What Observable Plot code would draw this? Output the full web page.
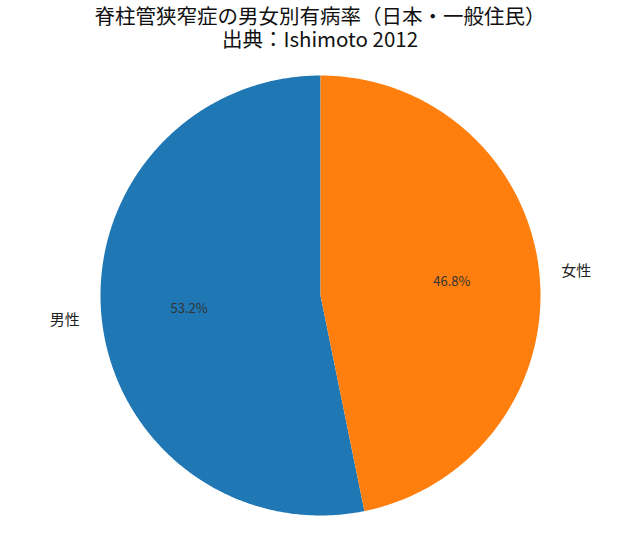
<!DOCTYPE html>
<html><head><meta charset="utf-8">
<script src="https://cdn.jsdelivr.net/npm/d3@7"></script>
<script src="https://cdn.jsdelivr.net/npm/@observablehq/plot@0.6"></script>
<style>
body{margin:0;background:#fff;font-family:"Noto Sans CJK JP","Noto Sans",sans-serif;}
#title{height:56px;text-align:center;color:#111;padding-top:4px;box-sizing:border-box;}
#title div{font-size:20.5px;line-height:23px;height:23px;white-space:nowrap;}
</style></head>
<body>
<div id="title"><div>脊柱管狭窄症の男女別有病率（日本・一般住民）</div><div>出典：Ishimoto 2012</div></div>
<div id="chart"></div>
<script>
const categories = ["男性", "女性"];
const values = [53.2, 46.8];
const colors = ["#1f77b4", "#ff7f0e"];
const startAngle = 90;

const total = d3.sum(values);
let acc = startAngle;
const slices = categories.map((c, i) => {
  const span = values[i] / total * 360;
  const s = {cat: c, value: values[i], color: colors[i], a0: acc, a1: acc + span};
  acc += span;
  s.mid = (s.a0 + s.a1) / 2;
  return s;
});
const rad = d => d * Math.PI / 180;
const poly = [];
for (const s of slices) {
  poly.push({cat: s.cat, x: 0, y: 0});
  const n = Math.ceil((s.a1 - s.a0) / 0.5);
  for (let k = 0; k <= n; k++) {
    const a = s.a0 + (s.a1 - s.a0) * k / n;
    poly.push({cat: s.cat, x: Math.cos(rad(a)), y: Math.sin(rad(a))});
  }
  poly.push({cat: s.cat, x: 0, y: 0});
}
const labels = slices.map(s => ({
  cat: s.cat, x: 1.1 * Math.cos(rad(s.mid)), y: 1.1 * Math.sin(rad(s.mid)),
  px: 0.6 * Math.cos(rad(s.mid)), py: 0.6 * Math.sin(rad(s.mid)),
  pct: s.value.toFixed(1) + "%"
}));

const chart = Plot.plot({
  width: 640, height: 491,
  margin: 0,
  x: {domain: [-1, 1], range: [100, 540], axis: null},
  y: {domain: [-1, 1], range: [459, 19], axis: null},
  color: {domain: categories, range: colors},
  style: {fontFamily: '"Noto Sans CJK JP","Noto Sans",sans-serif', background: "#fff"},
  marks: [
    Plot.line(poly, {x: "x", y: "y", z: "cat", fill: "cat", stroke: "none", curve: "linear"}),
    Plot.text(labels.filter(d => d.x < 0), {x: "x", y: "y", text: "cat", textAnchor: "end", fontSize: 15, fill: "#222"}),
    Plot.text(labels.filter(d => d.x >= 0), {x: "x", y: "y", text: "cat", textAnchor: "start", fontSize: 15, fill: "#222"}),
    Plot.text(labels, {x: "px", y: "py", text: "pct", fontSize: 13, fill: "#333"})
  ]
});
document.getElementById("chart").appendChild(chart);
</script>
</body></html>
